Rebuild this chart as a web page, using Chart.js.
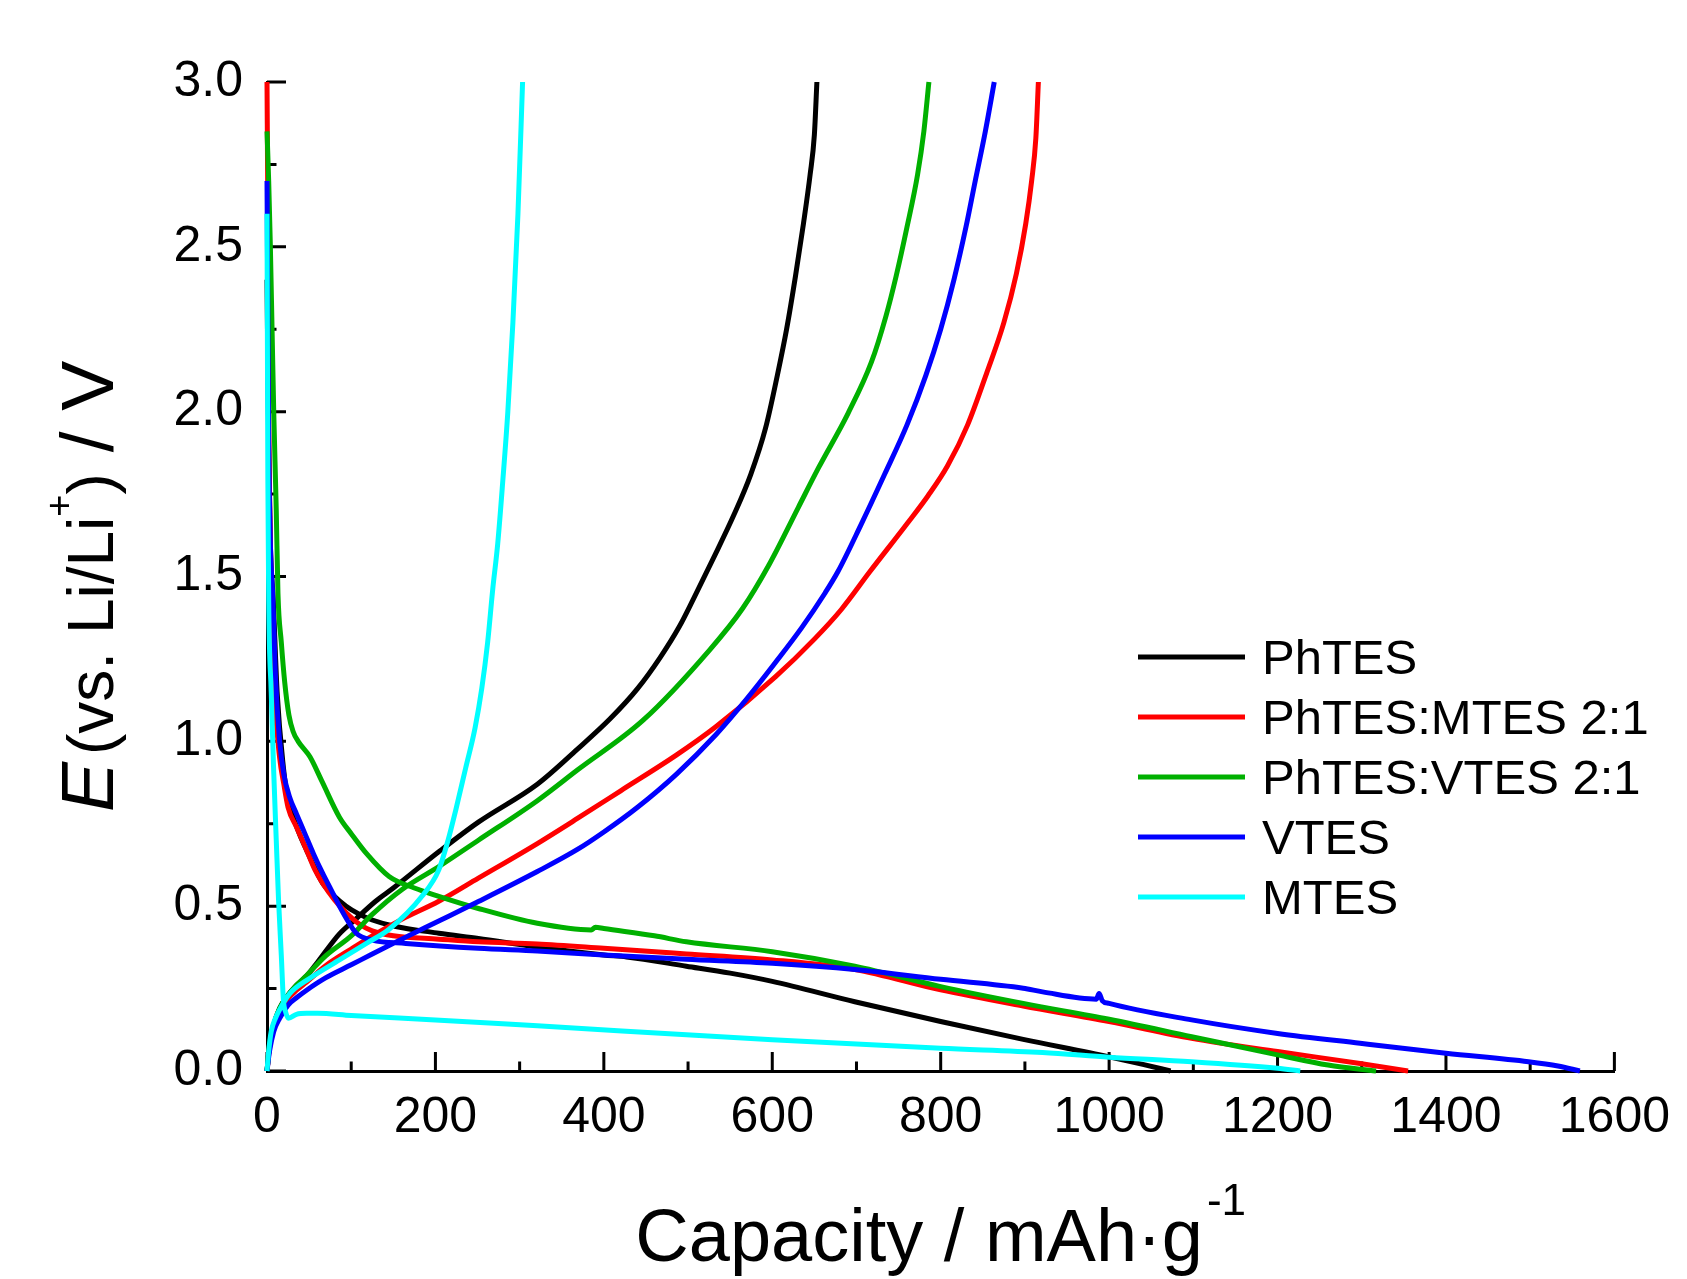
<!DOCTYPE html>
<html>
<head>
<meta charset="utf-8">
<script src="https://cdn.jsdelivr.net/npm/chart.js@4.4.1/dist/chart.umd.min.js"></script>
<style>
    html, body { margin: 0; padding: 0; background: #fff; }
    canvas { display: block; }
</style>
</head>
<body>
<canvas id="chart" width="1687" height="1279"></canvas>
<script>
const seriesNames = ["PhTES", "PhTES:MTES 2:1", "PhTES:VTES 2:1", "VTES", "MTES"]
const seriesColors = ["#000000", "#ff0000", "#00b000", "#0000ff", "#00ffff"]

// [capacity mAh/g, potential V]
const phtesDischarge = [[0, 2.4], [2, 1.9], [4, 1.6], [7.4, 1.43], [12, 1.15], [19.5, 0.92], [25, 0.82], [31, 0.77], [40, 0.71], [47, 0.67], [56, 0.62], [66, 0.57], [80, 0.53], [94, 0.5], [110, 0.475], [125, 0.458], [150, 0.44], [204, 0.418], [251, 0.402], [321, 0.376], [400, 0.352], [427, 0.346], [498, 0.318], [550, 0.297], [600, 0.272], [698, 0.21], [800, 0.15], [898, 0.096], [1000, 0.043], [1040, 0.02], [1073, 0]]
const phtesCharge = [[0, 0], [3, 0.08], [8, 0.14], [15, 0.19], [23.5, 0.225], [35, 0.26], [47, 0.288], [60, 0.33], [86, 0.416], [105, 0.46], [129, 0.515], [150, 0.555], [204, 0.665], [251, 0.755], [321, 0.87], [368, 0.975], [408, 1.07], [440, 1.16], [467, 1.255], [490, 1.35], [506, 1.43], [530, 1.555], [555, 1.69], [574.5, 1.81], [592, 1.95], [606, 2.11], [617, 2.25], [627.5, 2.41], [637, 2.57], [645, 2.72], [650, 2.84], [653, 3.0]]

const mtesMixDischarge = [[0, 3.0], [1, 2.6], [2, 2.0], [4, 1.6], [7, 1.3], [10, 1.1], [15, 0.95], [20, 0.87], [25, 0.8], [35, 0.74], [47, 0.67], [57, 0.61], [66, 0.57], [80, 0.52], [94, 0.48], [110, 0.445], [125, 0.425], [150, 0.41], [204, 0.4], [251, 0.392], [321, 0.385], [400, 0.372], [498, 0.355], [600, 0.337], [698, 0.308], [800, 0.246], [898, 0.197], [1000, 0.15], [1098, 0.099], [1200, 0.059], [1298, 0.023], [1355, 0]]
const mtesMixCharge = [[0, 0], [3, 0.07], [8, 0.13], [15, 0.18], [25, 0.22], [35, 0.245], [47, 0.27], [70, 0.32], [100, 0.37], [125, 0.41], [160, 0.46], [204, 0.515], [251, 0.585], [321, 0.69], [368.6, 0.766], [420, 0.85], [486, 0.958], [533, 1.044], [604, 1.196], [650, 1.31], [682, 1.4], [716, 1.515], [760, 1.66], [785, 1.745], [808, 1.835], [832, 1.96], [855, 2.12], [875, 2.27], [890, 2.42], [901, 2.57], [908, 2.7], [913, 2.83], [916, 3.0]]

const vtesMixDischarge = [[0, 2.85], [2, 2.7], [4, 2.5], [6, 2.25], [8, 2.0], [11, 1.7], [13, 1.45], [17, 1.3], [21, 1.18], [26, 1.08], [31, 1.03], [37, 1.0], [51, 0.953], [65, 0.88], [86, 0.77], [100, 0.72], [118, 0.66], [145, 0.59], [175, 0.555], [204, 0.53], [251, 0.493], [321, 0.448], [385, 0.428], [390, 0.436], [400, 0.432], [460, 0.41], [498, 0.392], [600, 0.362], [698, 0.318], [800, 0.256], [898, 0.205], [1000, 0.157], [1098, 0.104], [1200, 0.049], [1260, 0.018], [1317, 0]]
const vtesMixCharge = [[0, 0], [3, 0.08], [8, 0.14], [15, 0.19], [25, 0.23], [35, 0.26], [47, 0.29], [70, 0.35], [100, 0.41], [125, 0.475], [160, 0.55], [204, 0.62], [251, 0.7], [321, 0.82], [368.6, 0.913], [447, 1.065], [525.5, 1.277], [564.7, 1.403], [596, 1.535], [631, 1.71], [655, 1.83], [690, 1.995], [717.7, 2.15], [735, 2.29], [747, 2.41], [760, 2.56], [772.6, 2.72], [780, 2.85], [786, 3.0]]

const vtesDischarge = [[0, 2.7], [1, 2.3], [2, 1.9], [4, 1.6], [7, 1.43], [10, 1.2], [15, 1.0], [20, 0.9], [27, 0.83], [35, 0.78], [45, 0.72], [55, 0.66], [66, 0.6], [76, 0.55], [86, 0.5], [96, 0.455], [106, 0.418], [125, 0.397], [165, 0.387], [251, 0.372], [321, 0.364], [400, 0.352], [498, 0.339], [600, 0.327], [698, 0.308], [800, 0.278], [898, 0.251], [921, 0.24], [985, 0.218], [988, 0.235], [992, 0.213], [1000, 0.205], [1098, 0.155], [1200, 0.114], [1298, 0.084], [1400, 0.054], [1498, 0.028], [1533, 0.015], [1559, 0]]
const vtesCharge = [[0, 0], [3, 0.06], [8, 0.12], [15, 0.16], [25, 0.2], [35, 0.222], [47, 0.245], [70, 0.283], [100, 0.322], [125, 0.355], [160, 0.4], [204, 0.455], [251, 0.514], [321, 0.605], [368.6, 0.672], [400, 0.725], [440, 0.8], [486, 0.9], [533, 1.02], [570, 1.13], [604, 1.24], [635, 1.345], [662.7, 1.45], [678, 1.515], [705, 1.655], [733.4, 1.81], [760, 1.96], [782.4, 2.11], [800, 2.25], [815.7, 2.4], [830, 2.56], [841, 2.7], [853, 2.85], [863.6, 3.0]]

const mtesDischarge = [[0, 2.6], [0.5, 2.2], [1, 1.8], [2, 1.43], [5, 1.15], [7.8, 0.92], [11, 0.7], [13.7, 0.52], [17, 0.35], [19.5, 0.215], [22, 0.18], [25.5, 0.16], [35, 0.172], [47, 0.175], [60, 0.175], [100, 0.168], [200, 0.155], [321, 0.137], [600, 0.095], [800, 0.069], [921, 0.056], [1000, 0.042], [1098, 0.028], [1200, 0.008], [1227, 0]]
const mtesCharge = [[0, 0], [2, 0.06], [5, 0.12], [10, 0.16], [18, 0.2], [27, 0.235], [50, 0.28], [86, 0.337], [120, 0.39], [145, 0.43], [184, 0.53], [204, 0.61], [215, 0.7], [224, 0.79], [236, 0.92], [247, 1.04], [255, 1.16], [262, 1.3], [268, 1.46], [274, 1.6], [280, 1.79], [286, 2.0], [292, 2.27], [298, 2.6], [303.5, 3.0]]

const xTicks = [0, 200, 400, 600, 800, 1000, 1200, 1400, 1600]
const yTicks = [0, 0.5, 1.0, 1.5, 2.0, 2.5, 3.0]

const curves = [
    [phtesDischarge, phtesCharge],
    [mtesMixDischarge, mtesMixCharge],
    [vtesMixDischarge, vtesMixCharge],
    [vtesDischarge, vtesCharge],
    [mtesDischarge, mtesCharge],
]

const FONT = "'Liberation Sans', Arial, sans-serif"

const toPoints = (discharge, charge) => [
    ...discharge.map(([x, y]) => ({ x, y })),
    { x: null, y: null }, // break between discharge and charge
    ...charge.map(([x, y]) => ({ x, y })),
]

const datasets = curves.map(([dis, ch], i) => ({
    label: seriesNames[i],
    data: toPoints(dis, ch),
    borderColor: seriesColors[i],
    backgroundColor: seriesColors[i],
    borderWidth: 5,
    pointRadius: 0,
    showLine: true,
    spanGaps: false,
    cubicInterpolationMode: "monotone",
    clip: false,
    order: curves.length - i, // later series on top
}))

const drawYTitle = (ctx) => {
    ctx.save()
    ctx.translate(113, 812)
    ctx.rotate(-Math.PI / 2)
    ctx.fillStyle = "#000"
    ctx.textBaseline = "alphabetic"
    let x = 0
    const part = (text, font, dy = 0, gap = 0) => {
        ctx.font = font
        ctx.fillText(text, x, dy)
        x += ctx.measureText(text).width + gap
    }
    part("E", `italic 75px ${FONT}`, 0, 7)
    part("(vs. Li/Li", `64px ${FONT}`)
    part("+", `38px ${FONT}`, -41)
    part(")", `64px ${FONT}`)
    part(" / V", `75px ${FONT}`)
    ctx.restore()
}

const drawXTitle = (ctx, area) => {
    ctx.save()
    ctx.fillStyle = "#000"
    ctx.textBaseline = "alphabetic"
    const main = "Capacity / mAh\u00b7g"
    const sup = "-1"
    ctx.font = `74px ${FONT}`
    const w1 = ctx.measureText(main).width
    ctx.font = `44px ${FONT}`
    const w2 = ctx.measureText(sup).width
    const x0 = (area.left + area.right) / 2 - (w1 + w2 + 4) / 2
    ctx.font = `74px ${FONT}`
    ctx.fillText(main, x0, 1261)
    ctx.font = `44px ${FONT}`
    ctx.fillText(sup, x0 + w1 + 4, 1215)
    ctx.restore()
}

const drawLegend = (ctx, chart) => {
    ctx.save()
    ctx.font = `49px ${FONT}`
    ctx.textBaseline = "alphabetic"
    chart.data.datasets.forEach((ds, i) => {
        const y = 657 + i * 60
        ctx.strokeStyle = ds.borderColor
        ctx.lineWidth = 5
        ctx.beginPath()
        ctx.moveTo(1138, y)
        ctx.lineTo(1245, y)
        ctx.stroke()
        ctx.fillStyle = "#000"
        ctx.fillText(ds.label, 1262, y + 17)
    })
    ctx.restore()
}

const axisDecor = {
    id: "axisDecor",
    beforeDatasetsDraw(chart) {
        const { ctx, chartArea: a, scales: { x, y } } = chart
        ctx.save()
        ctx.strokeStyle = "#000"
        ctx.lineWidth = 3
        ctx.beginPath()
        xTicks.forEach((v, i) => {
            const px = x.getPixelForValue(v)
            ctx.moveTo(px, a.bottom)
            ctx.lineTo(px, a.bottom - 19)
            if (i < xTicks.length - 1) {
                const m = x.getPixelForValue((v + xTicks[i + 1]) / 2)
                ctx.moveTo(m, a.bottom)
                ctx.lineTo(m, a.bottom - 9.5)
            }
        })
        yTicks.forEach((v, i) => {
            const py = y.getPixelForValue(v)
            ctx.moveTo(a.left, py)
            ctx.lineTo(a.left + 19, py)
            if (i < yTicks.length - 1) {
                const m = y.getPixelForValue((v + yTicks[i + 1]) / 2)
                ctx.moveTo(a.left, m)
                ctx.lineTo(a.left + 9.5, m)
            }
        })
        ctx.stroke()
        ctx.restore()
    },
    afterDraw(chart) {
        const { ctx, chartArea } = chart
        drawLegend(ctx, chart)
        drawXTitle(ctx, chartArea)
        drawYTitle(ctx)
    },
}

new Chart(document.getElementById("chart"), {
    type: "scatter",
    data: { datasets },
    options: {
        responsive: false,
        animation: false,
        layout: { padding: { top: 82, right: 60, left: 0, bottom: 0 } },
        plugins: {
            legend: { display: false },
            tooltip: { enabled: false },
        },
        scales: {
            x: {
                type: "linear",
                min: 0,
                max: 1600,
                afterFit: (scale) => { scale.height = 208 },
                afterBuildTicks: (scale) => { scale.ticks = xTicks.map((value) => ({ value })) },
                grid: { display: false, drawTicks: false },
                border: { display: true, color: "#000", width: 3 },
                ticks: {
                    color: "#000",
                    padding: 17,
                    maxRotation: 0,
                    font: { family: FONT, size: 50 },
                    callback: (value) => `${value}`,
                },
            },
            y: {
                type: "linear",
                min: 0,
                max: 3,
                afterFit: (scale) => { scale.width = 267 },
                afterBuildTicks: (scale) => { scale.ticks = yTicks.map((value) => ({ value })) },
                grid: { display: false, drawTicks: false },
                border: { display: true, color: "#000", width: 3 },
                ticks: {
                    color: "#000",
                    padding: 24,
                    font: { family: FONT, size: 50 },
                    callback: (value) => value.toFixed(1),
                },
            },
        },
    },
    plugins: [axisDecor],
})
</script>
</body>
</html>
